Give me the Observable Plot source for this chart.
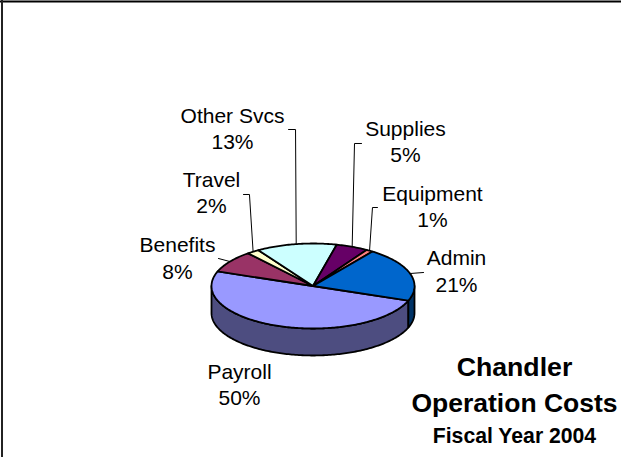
<!DOCTYPE html>
<html>
<head>
<meta charset="utf-8">
<script src="https://cdn.jsdelivr.net/npm/d3@7"></script>
<script src="https://cdn.jsdelivr.net/npm/@observablehq/plot@0.6"></script>
<style>html,body{margin:0;padding:0;background:#fff}svg{display:block}</style>
</head>
<body>
<div id="chart"></div>
<script>
// Data, clockwise from the Payroll slice
const categories = ["Payroll", "Benefits", "Travel", "Other Svcs", "Supplies", "Equipment", "Admin"];
const shares = [50, 8.4, 2.0, 12.8, 5.1, 1.1, 20.6];
const percentLabels = ["50%", "8%", "2%", "13%", "5%", "1%", "21%"];
const topColors = ["#9999FF", "#993366", "#FFFFCC", "#CCFFFF", "#660066", "#FF8080", "#0066CC"];
const wallColors = {Payroll: "#4D4D80", Admin: "#003366"};
const titleLines = ["Chandler", "Operation Costs", "Fiscal Year 2004"];

// Layout in pie units (rim of the top face = 1)
const labelX = [-0.724, -1.335, -1.0, -0.793, 0.911, 1.177, 1.414];
const labelY = [-2.341, 0.635, 2.176, 3.682, 3.376, 1.847, 0.329];
const leaderPaths = {
  "Benefits": [[-0.931, 0.647]],
  "Travel": [[-0.626, 2.153], [-0.685, 2.153]],
  "Other Svcs": [[-0.172, 3.682], [-0.241, 3.682]],
  "Supplies": [[0.409, 3.353], [0.478, 3.353]],
  "Equipment": [[0.586, 1.847], [0.635, 1.847]],
  "Admin": [[1.089, 0.318]]
};
const titleX = 1.985;
const titleY = [-1.918, -2.765, -3.541];
const titleSizes = [26.7, 26.5, 21.2];
const depth = 0.635;
const startAngle = -20;

const rad = d => d * Math.PI / 180;
const rim = (a, drop = 0) => ({x: Math.cos(rad(a)), y: Math.sin(rad(a)) - drop});
const arcAngles = (a0, a1) => {
  const n = Math.max(2, Math.ceil(Math.abs(a1 - a0)));
  return d3.range(n + 1).map(i => a0 + (a1 - a0) * i / n);
};

// Slices derived from the shares
let cumulative = 0;
const slices = categories.map((name, i) => {
  const a0 = startAngle - cumulative * 3.6;
  cumulative += shares[i];
  const a1 = startAngle - cumulative * 3.6;
  return {name, a0, a1, mid: (a0 + a1) / 2, color: topColors[i]};
});

const topRows = slices.flatMap(s => {
  const pts = [{x: 0, y: 0}, ...arcAngles(s.a0, s.a1).map(a => rim(a)), {x: 0, y: 0}];
  return pts.map(p => ({...p, id: s.name, fill: s.color}));
});

// Visible side wall: front half only
const wallRows = [
  {id: "Payroll", a0: startAngle, a1: -180},
  {id: "Admin", a0: 0, a1: startAngle}
].flatMap(w => {
  const angles = arcAngles(w.a0, w.a1);
  const pts = [...angles.map(a => rim(a)), ...angles.slice().reverse().map(a => rim(a, depth))];
  pts.push(pts[0]);
  return pts.map(p => ({...p, id: w.id, fill: wallColors[w.id]}));
});

const leaderRows = slices.filter(s => leaderPaths[s.name]).flatMap(s =>
  [rim(s.mid), ...leaderPaths[s.name].map(([x, y]) => ({x, y}))].map(p => ({...p, id: s.name}))
);

const labelRows = categories.map((name, i) => ({
  text: name + "\n" + percentLabels[i], x: labelX[i], y: labelY[i]
}));
const titleRows = titleLines.map((text, i) => ({text, x: titleX, y: titleY[i], size: titleSizes[i]}));

const chart = Plot.plot({
  width: 621,
  height: 457,
  margin: 0,
  x: {axis: null, domain: [-1, 1], range: [211, 414]},
  y: {axis: null, domain: [-1, 1], range: [328, 243]},
  style: {background: "#fff", fontFamily: "'Liberation Sans', Arial, sans-serif"},
  marks: [
    Plot.ruleY([6.694], {stroke: "#000", strokeWidth: 2}),
    Plot.ruleX([-3.064], {stroke: "#222", strokeWidth: 2}),
    Plot.line(wallRows, {x: "x", y: "y", z: "id", fill: "fill", stroke: "#000", strokeWidth: 1.8, strokeLinejoin: "round"}),
    Plot.line(topRows, {x: "x", y: "y", z: "id", fill: "fill", stroke: "#000", strokeWidth: 1.8, strokeLinejoin: "round"}),
    Plot.line(leaderRows, {x: "x", y: "y", z: "id", stroke: "#000", strokeWidth: 1, fill: "none"}),
    Plot.text(labelRows, {x: "x", y: "y", dy: -2, text: "text", fontSize: 21, lineHeight: 1.26, fill: "#000", textAnchor: "middle", lineAnchor: "middle"}),
    Plot.text(titleRows, {x: "x", y: "y", text: "text", fontSize: "size", fontWeight: "bold", fill: "#000", textAnchor: "middle", lineAnchor: "middle"})
  ]
});
document.getElementById("chart").appendChild(chart);
</script>
</body>
</html>
